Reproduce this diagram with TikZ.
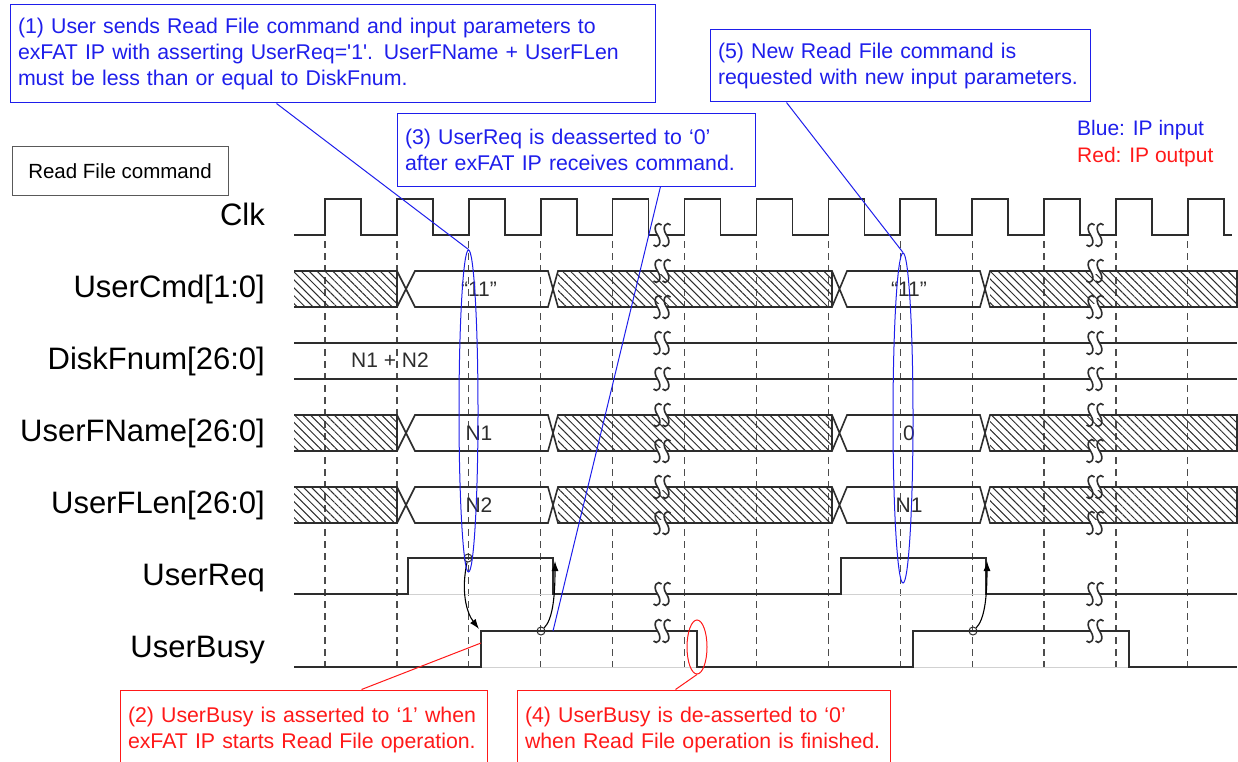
\documentclass[tikz,border=0pt]{standalone}
\usepackage{fontspec}
\setmainfont{Liberation Sans}
\usepackage{tikz}
\usetikzlibrary{shapes.geometric, arrows.meta, patterns.meta}

\definecolor{ipblue}{RGB}{30,30,235}
\definecolor{ipred}{RGB}{255,25,25}
\definecolor{wavec}{RGB}{45,45,45}

\tikzset{
brk/.pic={
  \fill[white] (-4.5,-3) rectangle (4.5,3);
  \draw[wavec, line width=1.6pt] (-0.5,-10) .. controls (-3.5,-14) and (-10.5,-9) .. (-4.5,0) .. controls (1.5,9) and (-5.5,14) .. (-8.5,10);
  \draw[wavec, line width=1.6pt] (8.5,-10) .. controls (5.5,-14) and (-1.5,-9) .. (4.5,0) .. controls (10.5,9) and (3.5,14) .. (0.5,10);
}
}

\begin{document}
\begin{tikzpicture}[x=1pt, y=-1pt,
wave/.style={draw=wavec, line width=1.6pt},
base/.style={draw=black!18, line width=1pt},
hatch/.style={pattern={Lines[angle=-45, distance=5.6pt, line width=1pt]}, pattern color=wavec},
tick/.style={draw=black!70, line width=1.2pt, dash pattern=on 7pt off 5pt},
sig/.style={anchor=base east, inner sep=0pt, font=\fontsize{31}{31}\selectfont},
val/.style={inner sep=0pt, text=wavec, font=\fontsize{21}{21}\selectfont},
note/.style={draw, line width=1pt, align=left, inner xsep=8pt, inner ysep=0pt, font=\fontsize{21.3}{26}\selectfont},
bnote/.style={note, draw=ipblue, text=ipblue},
rnote/.style={note, draw=ipred, text=ipred},
bell/.style={ellipse, draw=ipblue, line width=1pt, inner sep=0pt},
dot/.style={circle, draw=wavec, line width=1pt, minimum size=8pt, inner sep=0pt},
arr/.style={-{Latex[length=10pt, width=7pt]}, draw=black, line width=1.1pt}
]
\useasboundingbox (0,0) rectangle (1238,762);
\clip (0,0) rectangle (1238,762);

% rising edges of Clk
\foreach \k in {0,...,12}
  \draw[tick] ({325+71.9*\k},241) -- ({325+71.9*\k},669);

% signal names
\foreach \n/\y [count=\i] in {Clk/225, UserCmd[1:0]/297, DiskFnum[26:0]/369, UserFName[26:0]/441, UserFLen[26:0]/513, UserReq/585, UserBusy/657}
  \node[sig] (s\i) at (265,\y) {\n};

\node[draw=black!65, line width=1pt, minimum width=216pt, minimum height=48pt, font=\fontsize{20.5}{20.5}\selectfont] (rf) at (120,171) {Read File command};
\node[anchor=west, inner sep=0pt, text=ipblue, font=\fontsize{21}{21}\selectfont] (lgb) at (1077,130) {Blue: IP input};
\node[anchor=west, inner sep=0pt, text=ipred, font=\fontsize{21}{21}\selectfont] (lgr) at (1077,157) {Red: IP output};

% Clk
\draw[wave] (294,235) \foreach \k in {0,...,12} { -- ({325+71.9*\k},235) -- ++(0,-36) -- ++(36,0) -- ++(0,36) } -- (1232,235);
\pic at (662,235) {brk};
\pic at (1095,235) {brk};

% buses
\foreach \t/\a/\b [count=\i] in {271/“11”/“11”, 415/N1/0, 487/N2/N1} {
  \pgfmathsetmacro\yb{\t+36}
  \pgfmathsetmacro\ym{\t+18}
  \fill[hatch] (294,\t) rectangle (397,\yb) (558,\t) rectangle (832,\yb) (990,\t) rectangle (1237,\yb);
  \draw[wave] (294,\t) -- (397,\t) -- (415,\yb) -- (548,\yb) -- (558,\t) -- (832,\t) -- (847,\yb) -- (980,\yb) -- (990,\t) -- (1237,\t) -- (1237,\yb) -- (990,\yb) -- (980,\t) -- (847,\t) -- (832,\yb) -- (558,\yb) -- (548,\t) -- (415,\t) -- (397,\yb) -- (294,\yb);
  \draw[wave] (397,\t) -- (397,\yb) (832,\t) -- (832,\yb);
  \node[val] (va\i) at (479,\ym) {\a};
  \node[val] (vb\i) at (909,\ym) {\b};
  \foreach \x in {662,1095} {
    \pic at (\x,\t) {brk};
    \pic at (\x,\yb) {brk};
  }
}

% DiskFnum
\draw[wave] (294,343) -- (1237,343) (294,379) -- (1237,379);
\node[val] (dk) at (390,360) {N1 + N2};

% UserReq, UserBusy
\draw[base] (408,594) -- (553,594) (841,594) -- (986,594);
\draw[wave] (294,594) -- (408,594) -- (408,558) -- (553,558) -- (553,594) -- (841,594) -- (841,558) -- (986,558) -- (986,594) -- (1237,594);
\draw[base] (481,667) -- (697,667) (913,667) -- (1129,667);
\draw[wave] (294,667) -- (481,667) -- (481,631) -- (697,631) -- (697,667) -- (913,667) -- (913,631) -- (1129,631) -- (1129,667) -- (1237,667);
\foreach \x in {662,1095} {
  \pic at (\x,343) {brk};
  \pic at (\x,379) {brk};
  \pic at (\x,594) {brk};
  \pic at (\x,631) {brk};
}

% handshake
\node[dot] (c1) at (468,558) {};
\node[dot] (c2) at (541,631) {};
\node[dot] (c3) at (973,631) {};
\coordinate (b1) at (479,629);
\coordinate (r1) at (555,561);
\coordinate (r2) at (987,561);
\draw[arr] (c1) .. controls (461,590) and (466,612) .. (b1);
\draw[arr] (c2) .. controls (552,620) and (555,600) .. (r1);
\draw[arr] (c3) .. controls (984,620) and (987,600) .. (r2);

% notes
\node[bell, minimum width=19pt, minimum height=322pt] (e1) at (468.5,411) {};
\node[bell, minimum width=20pt, minimum height=330pt] (e2) at (903,418) {};
\node[ellipse, draw=ipred, line width=1pt, inner sep=0pt, minimum width=20pt, minimum height=54pt] (e3) at (697,647) {};

\node[bnote, minimum width=645pt, text width=629pt, minimum height=98pt] (t1) at (332.5,54) {(1) User sends Read File command and input parameters to\\exFAT IP with asserting UserReq=\textquotesingle1\textquotesingle. UserFName + UserFLen\\must be less than or equal to DiskFnum.};
\node[bnote, minimum width=358pt, text width=342pt, minimum height=72pt] (t3) at (576,150) {(3) UserReq is deasserted to ‘0’\\after exFAT IP receives command.};
\node[bnote, minimum width=380pt, text width=364pt, minimum height=72pt] (t5) at (900,66) {(5) New Read File command is\\requested with new input parameters.};
\node[rnote, minimum width=367pt, text width=351pt, minimum height=79pt] (t2) at (303.5,729.5) {(2) UserBusy is asserted to ‘1’ when\\exFAT IP starts Read File operation.};
\node[rnote, minimum width=373pt, text width=357pt, minimum height=79pt] (t4) at (703.5,729.5) {(4) UserBusy is de-asserted to ‘0’\\when Read File operation is finished.};

\coordinate (p3) at (553,631);
\coordinate (b2) at (481,643);
\draw[ipblue, line width=1pt] ([xshift=267pt]t1.south west) -- (e1.north);
\draw[ipblue, line width=1pt] ([xshift=264pt]t3.south west) -- (p3);
\draw[ipblue, line width=1pt] ([xshift=77pt]t5.south west) -- (e2.north);
\draw[ipred, line width=1pt] ([xshift=242pt]t2.north west) -- (b2);
\draw[ipred, line width=1pt] ([xshift=159pt]t4.north west) -- (e3.south);
\end{tikzpicture}
\end{document}
